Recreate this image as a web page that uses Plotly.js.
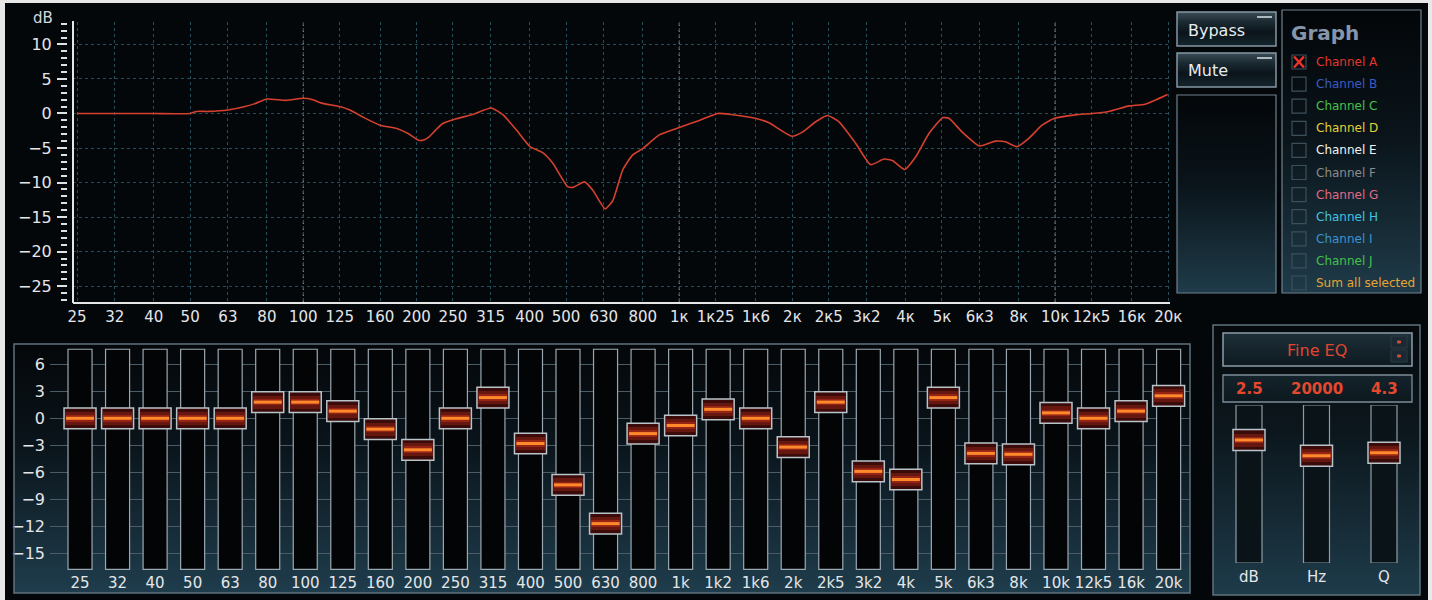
<!DOCTYPE html>
<html><head><meta charset="utf-8">
<script src="https://cdn.plot.ly/plotly-3.0.1.min.js"></script>
<style>html,body{margin:0;padding:0;background:#04070a;}#chart{width:1432px;height:600px;}</style>
</head><body><div id="chart"></div>
<script>
// ---------- DATA ----------
const topFreqs = [25,31.5,40,50,63,80,100,125,160,200,250,315,400,500,630,800,1000,1250,1600,2000,2500,3150,4000,5000,6300,8000,10000,12500,16000,20000];
const topLabels = ['25','32','40','50','63','80','100','125','160','200','250','315','400','500','630','800','1к','1к25','1к6','2к','2к5','3к2','4к','5к','6к3','8к','10к','12к5','16к','20к'];
const decadeFreqs = [100,1000,10000];
const curveFreq = [25,31.5,40,50,52,56,63,70,75,80,90,100,106,112,125,133,145,160,178,190,203,210,216,225,235,254,282,316,340,369,401,434,461,505,521,560,589,635,666,707,752,799,885,1005,1131,1265,1359,1592,1733,1995,2127,2308,2477,2661,2946,3229,3508,3689,3981,4254,4616,5020,5214,5662,6294,6933,7370,7920,8510,9230,9960,11320,12530,13870,15750,17370,19910];
const curveDb   = [0,0,0,0,0.3,0.3,0.5,1.0,1.5,2.1,1.9,2.2,2.0,1.5,1.0,0.5,-0.6,-1.7,-2.2,-2.9,-3.9,-3.8,-3.4,-2.4,-1.45,-0.8,-0.15,0.8,-0.2,-2.4,-4.8,-5.7,-7.2,-10.6,-10.7,-9.9,-11.1,-13.8,-12.6,-8.2,-6.0,-5.1,-3.1,-2.0,-1.0,0,-0.1,-0.7,-1.35,-3.3,-2.7,-1.2,-0.3,-1.2,-4.3,-7.4,-6.6,-6.8,-8.1,-6.3,-2.9,-0.6,-0.7,-2.7,-4.7,-4.0,-4.1,-4.8,-3.6,-1.7,-0.7,-0.2,0,0.3,1.1,1.35,2.75];

const faderLabels = ['25','32','40','50','63','80','100','125','160','200','250','315','400','500','630','800','1k','1k2','1k6','2k','2k5','3k2','4k','5k','6k3','8k','10k','12k5','16k','20k'];
const faderGain = [0,0,0,0,0,1.8,1.8,0.8,-1.2,-3.5,0,2.3,-2.8,-7.4,-11.7,-1.7,-0.8,1.0,0,-3.2,1.8,-5.9,-6.8,2.3,-3.9,-4.0,0.6,0,0.8,2.5];
const faderTicks = [-15,-12,-9,-6,-3,0,3,6];
const trackTop = 7.67, trackBottom = -16.78;

const fineLabels = ['dB','Hz','Q'];
const fineValues = ['2.5','20000','4.3'];
const finePos = [0.778,0.679,0.698];   // slider positions (0 = bottom, 1 = top)

const channelNames = ['Channel A','Channel B','Channel C','Channel D','Channel E','Channel F','Channel G','Channel H','Channel I','Channel J','Sum all selected'];
const channelColors = ['#e2362b','#3a5cc4','#47c14a','#e2d23a','#f2f2f2','#8c8c8c','#e06a86','#42c3e0','#3b94d2','#43c04a','#e8a436'];
const channelChecked = [true,false,false,false,false,false,false,false,false,false,false];

// ---------- helpers ----------
const W = 1432, H = 600;
const px = x => x / W;
const py = y => 1 - y / H;
const FONT = 'DejaVu Sans';
function grad(stops){
  const s = stops.map(([o,c]) => `<stop offset="${o}" stop-color="${c}"/>`).join('');
  const svg = `<svg xmlns="http://www.w3.org/2000/svg" viewBox="0 0 10 100" preserveAspectRatio="none"><defs><linearGradient id="g" x1="0" y1="0" x2="0" y2="1">${s}</linearGradient></defs><rect width="10" height="100" fill="url(#g)"/></svg>`;
  return 'data:image/svg+xml;base64,' + btoa(svg);
}
function img(x0,y0,x1,y1,stops){
  return {source: grad(stops), xref:'paper', yref:'paper', x:px(x0), y:py(y0), sizex:(x1-x0)/W, sizey:(y1-y0)/H,
          xanchor:'left', yanchor:'top', sizing:'stretch', layer:'below'};
}
function rect(x0,y0,x1,y1,color,width,fill,layer){
  return {type:'rect', xref:'paper', yref:'paper', x0:px(x0), x1:px(x1), y0:py(y1), y1:py(y0),
          line:{color:color, width:width}, fillcolor: fill || 'rgba(0,0,0,0)', layer: layer || 'above'};
}
function line(x0,y0,x1,y1,color,width,dash){
  return {type:'line', xref:'paper', yref:'paper', x0:px(x0), x1:px(x1), y0:py(y0), y1:py(y1),
          line:{color:color, width:width, dash: dash || 'solid'}, layer:'above'};
}

const panelStops = [[0,'#030609'],[0.45,'#0a141a'],[1,'#1f3b49']];
const buttonStops = [[0,'#3c4d57'],[0.28,'#1c2b33'],[0.6,'#0a141a'],[1,'#15252d']];

const images = [
  img(1177,12,1276,46,buttonStops),
  img(1177,53,1276,87,buttonStops),
  img(1177,95,1276,293,panelStops),
  img(1282,10,1421,293,panelStops),
  img(14,344,1190,593,[[0,'#04070a'],[0.4,'#0a141a'],[1,'#1f3d4d']]),
  img(1213,325,1420,595,[[0,'#05090c'],[0.4,'#0c171d'],[1,'#1e3b4a']]),
  img(1223,333,1412,366,[[0,'#1e2f38'],[1,'#0d1a20']]),
  img(1223,375,1412,402,[[0,'#14232b'],[1,'#0c181e']])
];

const shapes = [];
shapes.push(line(73,21,73,303,'#e6e6e6',2));
decadeFreqs.forEach(f => shapes.push({type:'line', xref:'x', yref:'paper', x0:f, x1:f, y0:py(302), y1:py(22),
  line:{color:'#8aa2ad', width:1, dash:'dot'}, layer:'between'}));
shapes.push(rect(1177,12,1276,46,'#8396a3',1.5));
shapes.push(rect(1177,53,1276,87,'#8396a3',1.5));
shapes.push(rect(1177,95,1276,293,'#6f828f',1.2));
shapes.push(rect(1282,10,1421,293,'#6f828f',1.2));
shapes.push(line(1257,17,1272,17,'#aeb8bf',2));
shapes.push(line(1257,58,1272,58,'#aeb8bf',2));
channelNames.forEach((n,k) => {
  const yc = 62 + 22.1*k;
  shapes.push(rect(1292,yc-7,1306,yc+7,'#3c505c',1.2));
  if (channelChecked[k]) {
    shapes.push(line(1294,56.5+22.1*k,1304,67.5+22.1*k,'#e8332a',2.6));
    shapes.push(line(1294,67.5+22.1*k,1304,56.5+22.1*k,'#e8332a',2.6));
  }
});
shapes.push(rect(14,344,1190,593,'#5f717c',1.5));
shapes.push(rect(1213,325,1420,595,'#5f717c',1.5));
shapes.push(rect(1223,333,1412,366,'#8c9da9',1.5));
shapes.push(rect(1223,375,1412,402,'#7c8d99',1.3));
shapes.push(rect(1391,336,1407,348,'#2a3a44',1,'#1b2a32'));
shapes.push(rect(1391,350,1407,362,'#2a3a44',1,'#1b2a32'));
shapes.push(rect(1397.5,341,1400.5,343,'#d04a34',1,'#d04a34'));
shapes.push(rect(1397.5,355,1400.5,357,'#d04a34',1,'#d04a34'));
shapes.push(rect(0,0,5,600,'#e8e8e8',0,'#e8e8e8'));
shapes.push(rect(0,0,1432,3,'#e8e8e8',0,'#e8e8e8'));
shapes.push(rect(1428,0,1432,600,'#e8e8e8',0,'#e8e8e8'));

const annotations = [];
annotations.push({xref:'paper', yref:'paper', x:px(43), y:py(18), text:'dB', showarrow:false,
  font:{family:FONT, size:15, color:'#d4d8dc'}, xanchor:'center', yanchor:'middle'});
annotations.push({xref:'paper', yref:'paper', x:px(1186), y:py(30), text:'Bypass', showarrow:false,
  font:{family:FONT, size:16, color:'#e6ecf0'}, xanchor:'left', yanchor:'middle'});
annotations.push({xref:'paper', yref:'paper', x:px(1186), y:py(71), text:'Mute', showarrow:false,
  font:{family:FONT, size:16, color:'#e6ecf0'}, xanchor:'left', yanchor:'middle'});
annotations.push({xref:'paper', yref:'paper', x:px(1289), y:py(33), text:'Graph', showarrow:false,
  font:{family:FONT, size:20, color:'#8596aa', weight:'bold'}, xanchor:'left', yanchor:'middle'});
channelNames.forEach((n,k) => annotations.push({xref:'paper', yref:'paper', x:px(1314), y:py(62+22.1*k), text:n,
  showarrow:false, font:{family:FONT, size:12, color:channelColors[k]}, xanchor:'left', yanchor:'middle'}));
annotations.push({xref:'paper', yref:'paper', x:px(1317), y:py(350), text:'Fine EQ', showarrow:false,
  font:{family:FONT, size:16, color:'#e2442e'}, xanchor:'center', yanchor:'middle'});
fineLabels.forEach((l,k) => annotations.push({xref:'x3', yref:'paper', x:l, y:py(388.5), text:fineValues[k],
  showarrow:false, font:{family:FONT, size:15, color:'#e4482e', weight:'bold'}, xanchor:'center', yanchor:'middle'}));

// ---------- traces ----------
const traces = [];
traces.push({type:'scatter', mode:'lines', x:curveFreq, y:curveDb, xaxis:'x', yaxis:'y',
  line:{color:'#d6402f', width:1.6, shape:'spline', smoothing:0.5}, hoverinfo:'skip'});

function thumbTraces(xs, vals, half, w, xa, ya){
  const out = [];
  out.push({type:'bar', x:xs, base:vals.map(v=>v-half), y:vals.map(()=>2*half), width:xs.map(()=>w),
    xaxis:xa, yaxis:ya, marker:{color:'#3a0b08', line:{color:'#b9c3ca', width:1.5}}, hoverinfo:'skip'});
  out.push({type:'bar', x:xs, base:vals.map(v=>v-half*0.62), y:vals.map(()=>2*half*0.62), width:xs.map(()=>w*0.93),
    xaxis:xa, yaxis:ya, marker:{color:'#661710', line:{width:0}}, hoverinfo:'skip'});
  out.push({type:'bar', x:xs, base:vals.map(v=>v-half*0.32), y:vals.map(()=>2*half*0.32), width:xs.map(()=>w*0.88),
    xaxis:xa, yaxis:ya, marker:{color:'#962414', line:{width:0}}, hoverinfo:'skip'});
  out.push({type:'scatter', mode:'markers', x:xs, y:vals, xaxis:xa, yaxis:ya,
    marker:{symbol:'line-ew-open', size:20, color:'#ff8a2c', line:{color:'#ff8a2c', width:3}}, hoverinfo:'skip'});
  return out;
}
traces.push({type:'bar', x:faderLabels, base:faderLabels.map(()=>trackBottom), y:faderLabels.map(()=>trackTop-trackBottom),
  width:faderLabels.map(()=>0.64), xaxis:'x2', yaxis:'y2',
  marker:{color:'#020405', line:{color:'#9ba7b0', width:1.2}}, hoverinfo:'skip'});
thumbTraces(faderLabels, faderGain, 1.15, 0.852, 'x2', 'y2').forEach(t => traces.push(t));

traces.push({type:'bar', x:fineLabels, base:fineLabels.map(()=>0), y:fineLabels.map(()=>1), width:fineLabels.map(()=>0.385),
  xaxis:'x3', yaxis:'y3', marker:{color:'#0a1317', line:{color:'#8e9ca6', width:1.2}}, hoverinfo:'skip'});
thumbTraces(fineLabels, finePos, 0.0665, 0.474, 'x3', 'y3').forEach(t => traces.push(t));

const tickFont = {family:FONT, size:15, color:'#e4e6e8'};
const layout = {
  width:W, height:H, margin:{l:0,r:0,t:0,b:0},
  paper_bgcolor:'#04070a', plot_bgcolor:'rgba(0,0,0,0)',
  showlegend:false, barmode:'overlay', bargap:0,
  font:{family:FONT},
  xaxis:{type:'log', domain:[px(73),px(1170)], range:[1.38730,4.30555], anchor:'y',
    tickmode:'array', tickvals:topFreqs, ticktext:topLabels, ticks:'', tickfont:tickFont,
    showgrid:true, gridcolor:'#21505c', griddash:'dot', gridwidth:1,
    showline:true, linecolor:'#e6e6e6', linewidth:2, zeroline:false, ticklabelstandoff:0},
  yaxis:{domain:[py(302),py(22)], range:[-27.30,13.25], anchor:'free', position:px(67),
    tickmode:'linear', tick0:0, dtick:5, ticks:'outside', ticklen:10, tickwidth:2, tickcolor:'#dfe3e6',
    minor:{dtick:1, tick0:0, ticks:'outside', ticklen:6, tickwidth:2, tickcolor:'#dfe3e6', showgrid:false},
    tickfont:{family:FONT, size:16, color:'#e4e6e8'}, showgrid:true, gridcolor:'#21505c', griddash:'dot',
    showline:false, zeroline:false, ticklabelstandoff:2},
  xaxis2:{type:'category', domain:[px(50),px(1190)], range:[-0.8,29.57], anchor:'y2',
    categoryorder:'array', categoryarray:faderLabels, ticks:'', tickfont:tickFont, showgrid:false,
    showline:false, zeroline:false, ticklabelstandoff:2},
  yaxis2:{domain:[py(570),py(344)], range:[-16.856,8.256], anchor:'x2',
    tickmode:'array', tickvals:faderTicks, ticks:'', tickfont:{family:FONT, size:16, color:'#e4e6e8'},
    showgrid:true, gridcolor:'#4b5c67', gridwidth:1, zeroline:false, showline:false, ticklabelstandoff:4},
  xaxis3:{type:'category', domain:[px(1215.25),px(1417.75)], range:[-0.5,2.5], anchor:'y3',
    categoryorder:'array', categoryarray:fineLabels, ticks:'', tickfont:tickFont, showgrid:false,
    showline:false, zeroline:false, ticklabelstandoff:3},
  yaxis3:{domain:[py(563),py(405)], range:[0,1], anchor:'x3', showticklabels:false, showgrid:false,
    zeroline:false, showline:false, ticks:''},
  images: images, shapes: shapes, annotations: annotations
};
Plotly.newPlot('chart', traces, layout, {staticPlot:true, displayModeBar:false});
</script></body></html>
